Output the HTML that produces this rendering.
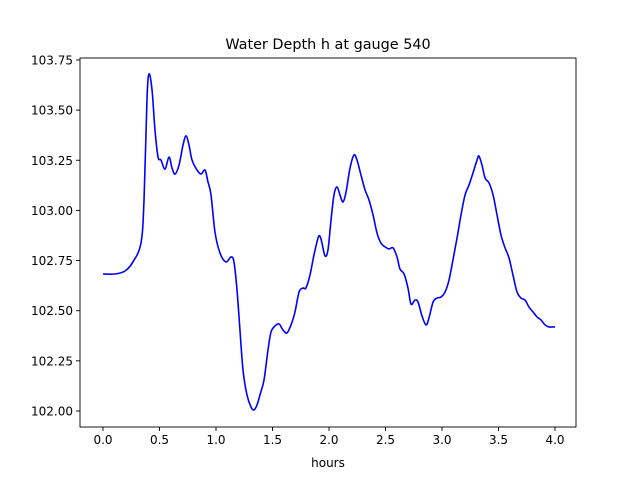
<!DOCTYPE html>
<html><head><meta charset="utf-8"><style>
body{margin:0;background:#fff;}
svg{display:block;font-family:"DejaVu Sans","Liberation Sans",sans-serif;}
</style></head><body>
<svg id="chart" width="640" height="480">
<rect x="0" y="0" width="640" height="480" fill="#fff"/>
<text x="328" y="49" text-anchor="middle" font-size="14.4">Water Depth h at gauge 540</text>
<g id="plot"></g>
<text x="328" y="467" text-anchor="middle" font-size="12">hours</text>
</svg>
<script>
const times=[0.000,0.106,0.195,0.265,0.336,0.363,0.389,0.407,0.434,0.460,0.487,0.513,0.549,0.584,0.611,0.637,0.673,0.708,0.735,0.761,0.788,0.832,0.867,0.903,0.929,0.956,0.991,1.035,1.088,1.133,1.159,1.186,1.212,1.239,1.274,1.310,1.336,1.363,1.389,1.425,1.460,1.487,1.522,1.558,1.593,1.628,1.664,1.699,1.735,1.770,1.796,1.832,1.867,1.903,1.920,1.938,1.965,1.991,2.018,2.044,2.071,2.097,2.124,2.151,2.186,2.221,2.248,2.283,2.319,2.354,2.390,2.425,2.460,2.496,2.531,2.567,2.602,2.628,2.664,2.699,2.726,2.761,2.788,2.823,2.858,2.885,2.921,2.956,2.991,3.027,3.062,3.097,3.133,3.168,3.204,3.239,3.274,3.310,3.327,3.354,3.381,3.416,3.452,3.487,3.522,3.558,3.593,3.628,3.664,3.699,3.735,3.770,3.805,3.841,3.876,3.912,3.947,3.982,4.000];
const depth=[102.683,102.683,102.698,102.743,102.837,103.052,103.550,103.680,103.600,103.401,103.266,103.251,103.206,103.266,103.211,103.181,103.226,103.326,103.371,103.326,103.251,103.201,103.181,103.201,103.142,103.077,102.892,102.788,102.743,102.768,102.743,102.603,102.404,102.204,102.080,102.020,102.005,102.030,102.080,102.155,102.304,102.394,102.424,102.434,102.404,102.389,102.429,102.494,102.593,102.613,102.613,102.678,102.778,102.862,102.872,102.837,102.773,102.803,102.952,103.077,103.117,103.077,103.042,103.092,103.211,103.276,103.251,103.176,103.102,103.052,102.977,102.887,102.837,102.818,102.808,102.813,102.768,102.708,102.683,102.613,102.533,102.553,102.543,102.474,102.429,102.464,102.543,102.563,102.568,102.593,102.653,102.753,102.862,102.977,103.077,103.127,103.186,103.251,103.271,103.226,103.162,103.137,103.077,102.977,102.877,102.813,102.763,102.678,102.593,102.563,102.553,102.518,102.494,102.469,102.454,102.429,102.419,102.419,102.419];
const xTicks=[0.0,0.5,1.0,1.5,2.0,2.5,3.0,3.5,4.0];
const xTickLabels=["0.0","0.5","1.0","1.5","2.0","2.5","3.0","3.5","4.0"];
const yTicks=[102.00,102.25,102.50,102.75,103.00,103.25,103.50,103.75];
const yTickLabels=["102.00","102.25","102.50","102.75","103.00","103.25","103.50","103.75"];

const NS="http://www.w3.org/2000/svg";
const L=80,R=576,T=58,B=427;
function xs(t){return 103+t*113;}
function ys(v){return 411-(v-102)*200.6;}
const g=document.getElementById('plot');
function mk(tag,attrs){const e=document.createElementNS(NS,tag);for(const k in attrs)e.setAttribute(k,attrs[k]);g.appendChild(e);return e;}

// line
const P=times.map((t,i)=>[xs(t),ys(depth[i])]);
let d="M"+P[0][0].toFixed(2)+","+P[0][1].toFixed(2);
for(let i=0;i<P.length-1;i++){
  const p0=P[Math.max(0,i-1)],p1=P[i],p2=P[i+1],p3=P[Math.min(P.length-1,i+2)];
  const c1x=p1[0]+(p2[0]-p0[0])/6,c1y=p1[1]+(p2[1]-p0[1])/6;
  const c2x=p2[0]-(p3[0]-p1[0])/6,c2y=p2[1]-(p3[1]-p1[1])/6;
  d+=" C"+c1x.toFixed(2)+","+c1y.toFixed(2)+" "+c2x.toFixed(2)+","+c2y.toFixed(2)+" "+p2[0].toFixed(2)+","+p2[1].toFixed(2);
}
const line=mk('path',{d:d,fill:'none',stroke:'#0000ff','stroke-width':1.6,'stroke-linejoin':'round'});



const frame=mk('rect',{x:L,y:T,width:R-L,height:B-T,fill:'none',stroke:'#000','stroke-width':0.9});



xTicks.forEach((t,i)=>{
  const x=xs(t);
  const tk=mk('line',{x1:x,x2:x,y1:B,y2:B+4,stroke:'#000','stroke-width':0.9});
  
  
  const lb=mk('text',{x:x,y:B+17,'text-anchor':'middle','font-size':12});
  lb.textContent=xTickLabels[i];
  
  
});
yTicks.forEach((v,i)=>{
  const y=ys(v);
  const tk=mk('line',{x1:L-4,x2:L,y1:y,y2:y,stroke:'#000','stroke-width':0.9});
  
  
  const lb=mk('text',{x:L-7,y:y+4.5,'text-anchor':'end','font-size':12});
  lb.textContent=yTickLabels[i];
  
  
});
</script>
</body></html>
